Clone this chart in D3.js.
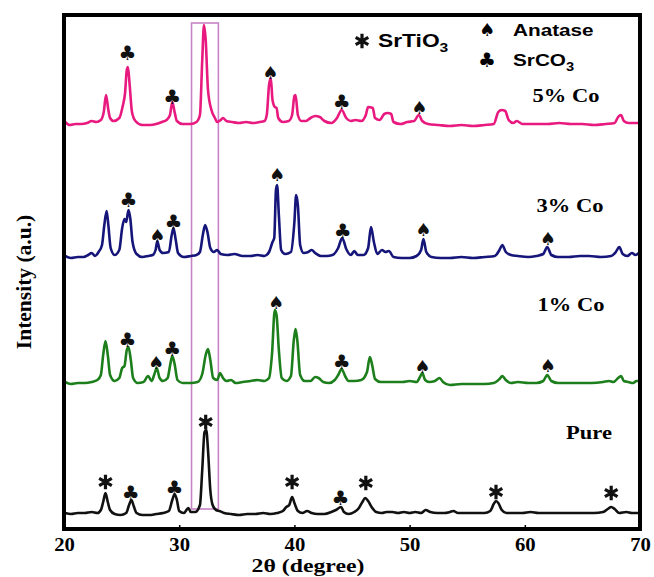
<!DOCTYPE html>
<html>
  <head>
    <meta charset="utf-8">
    <title>XRD patterns</title>
    <script src="https://cdn.jsdelivr.net/npm/d3@7"></script>
    <style>
      body { margin: 0; background: #fff; }
      svg { display: block; }
      .serif { font-family: "Liberation Serif", "Times New Roman", serif; font-weight: bold; }
      .sans { font-family: "Liberation Sans", Arial, sans-serif; font-weight: bold; }
      .sym { font-family: "DejaVu Sans", sans-serif; }
    </style>
  </head>
  <body>
    <div id="chart"></div>
    <script>
      // 2theta (degree) vs intensity (a.u.), traces already stacked with offsets
      var pure = [[20.1,16],[20.6,15],[21.2,16],[21.8,16],[22.4,17],[22.9,16],[23.2,19],[23.4,27],[23.6,36],[23.8,27],[24.0,19],[24.4,15],[24.9,14],[25.4,16],[25.65,24],[25.85,29],[26.05,23],[26.3,16],[26.8,14],[27.4,14],[28.0,15],[28.6,16],[29.1,18],[29.4,29],[29.6,35],[29.8,29],[30.0,18],[30.4,16],[30.8,21],[31.0,17],[31.4,17],[31.8,24],[32.0,59],[32.2,97],[32.35,99],[32.5,79],[32.7,39],[32.9,24],[33.2,19],[33.5,18],[33.9,16],[34.5,15],[35.2,14],[35.9,15],[36.6,15],[37.3,16],[37.9,15],[38.5,16],[39.0,18],[39.3,22],[39.55,24],[39.8,32],[40.0,26],[40.3,18],[40.7,16],[41.1,18],[41.5,16],[42.0,15],[42.6,15],[43.2,17],[43.6,19],[44.05,22],[44.3,17],[44.7,15],[45.2,17],[45.6,21],[45.9,27],[46.15,31],[46.4,28],[46.7,22],[47.1,17],[47.6,16],[48.0,17],[48.5,17],[49.0,16],[49.5,17],[50.0,16],[50.5,17],[51.0,16],[51.4,19],[51.8,17],[52.4,16],[53.0,16],[53.5,17],[53.8,18],[54.2,16],[55.0,16],[55.8,16],[56.5,16],[57.0,18],[57.3,25],[57.5,28],[57.7,26],[58.0,19],[58.4,16],[59.0,16],[59.8,16],[60.5,17],[61.2,16],[62.0,16],[63.0,16],[64.0,16],[65.0,16],[66.0,16],[66.8,17],[67.2,20],[67.5,22],[67.8,20],[68.2,16],[68.8,17],[69.3,16],[69.9,16]];

      var co1 = [[20.1,147],[20.6,145],[21.2,146],[21.8,146],[22.4,147],[22.9,149],[23.2,154],[23.4,174],[23.6,188],[23.8,174],[24.0,154],[24.4,148],[24.8,151],[25.05,161],[25.25,163],[25.45,179],[25.6,182],[25.8,169],[26.0,151],[26.4,146],[26.9,147],[27.3,153],[27.6,148],[27.85,155],[28.05,161],[28.3,151],[28.6,148],[29.0,151],[29.2,163],[29.4,173],[29.6,165],[29.85,149],[30.3,146],[31.0,146],[31.6,147],[32.0,155],[32.3,174],[32.5,180],[32.7,169],[32.95,151],[33.3,149],[33.55,156],[33.8,151],[34.1,148],[34.5,149],[34.9,146],[35.5,147],[36.2,148],[36.8,149],[37.4,148],[37.8,151],[38.05,174],[38.3,219],[38.45,214],[38.65,179],[38.9,151],[39.3,148],[39.7,153],[39.95,189],[40.1,200],[40.25,189],[40.5,154],[40.9,148],[41.4,148],[41.8,152],[42.1,151],[42.5,147],[43.0,146],[43.5,149],[43.8,154],[44.1,160],[44.4,153],[44.7,148],[45.2,148],[45.8,149],[46.3,157],[46.55,172],[46.75,164],[47.0,150],[47.5,147],[48.2,147],[48.8,147],[49.4,147],[50.0,148],[50.6,147],[50.9,152],[51.1,156],[51.35,149],[51.7,147],[52.2,148],[52.6,151],[52.9,147],[53.5,144],[54.5,145],[55.5,145],[56.5,145],[57.3,146],[57.8,150],[58.05,153],[58.35,149],[58.8,146],[59.4,147],[60.3,146],[61.0,146],[61.6,148],[61.95,154],[62.3,148],[62.9,146],[63.8,146],[64.8,146],[65.8,146],[66.8,147],[67.3,148],[67.7,147],[68.1,151],[68.35,153],[68.6,148],[69.0,147],[69.4,146],[69.7,148],[69.9,148]];

      var co3 = [[20.1,273],[20.6,271],[21.2,272],[21.7,272],[22.1,274],[22.4,276],[22.7,273],[23.0,277],[23.3,284],[23.5,304],[23.7,318],[23.85,304],[24.05,281],[24.4,274],[24.8,279],[25.05,301],[25.25,310],[25.4,307],[25.6,319],[25.75,311],[25.95,287],[26.3,275],[26.8,272],[27.3,273],[27.7,274],[27.95,279],[28.1,288],[28.3,279],[28.6,276],[29.1,277],[29.35,294],[29.5,301],[29.7,289],[29.9,276],[30.4,272],[31.0,273],[31.5,274],[31.8,277],[32.05,294],[32.25,304],[32.45,297],[32.7,281],[33.0,277],[33.3,279],[33.6,275],[34.2,274],[34.8,275],[35.5,273],[36.2,273],[36.8,274],[37.4,273],[37.8,277],[38.1,287],[38.25,291],[38.4,339],[38.5,344],[38.65,314],[38.85,279],[39.2,275],[39.7,277],[40.0,307],[40.15,334],[40.3,324],[40.5,284],[40.8,276],[41.2,277],[41.5,279],[41.8,276],[42.3,273],[42.8,273],[43.3,274],[43.8,281],[44.15,291],[44.5,280],[44.9,274],[45.2,278],[45.5,274],[46.0,274],[46.4,281],[46.65,302],[46.9,287],[47.2,275],[47.6,279],[47.9,277],[48.2,278],[48.6,272],[49.3,271],[50.0,271],[50.6,273],[51.0,279],[51.2,290],[51.45,277],[51.9,272],[52.7,271],[53.5,271],[54.5,272],[55.5,271],[56.5,272],[57.4,273],[57.8,279],[58.05,284],[58.35,277],[58.8,274],[59.4,273],[60.3,272],[61.0,273],[61.6,275],[61.95,282],[62.3,274],[62.9,272],[63.8,272],[64.8,273],[65.6,273],[66.6,272],[67.5,273],[67.9,277],[68.2,282],[68.5,275],[68.9,273],[69.3,276],[69.6,274],[69.9,276]];

      var co5 = [[20.1,407],[20.5,404],[21.0,405],[21.5,405],[22.0,406],[22.4,408],[22.8,407],[23.2,409],[23.45,417],[23.65,434],[23.85,419],[24.0,411],[24.3,408],[24.8,411],[25.1,423],[25.3,436],[25.45,459],[25.55,462],[25.7,444],[25.9,417],[26.2,408],[26.8,404],[27.5,404],[28.0,405],[28.5,407],[28.9,409],[29.2,414],[29.4,427],[29.6,417],[29.8,408],[30.3,405],[31.0,405],[31.5,407],[31.8,414],[32.0,469],[32.15,504],[32.3,489],[32.5,439],[32.8,419],[33.1,411],[33.3,407],[33.6,409],[33.8,411],[34.1,408],[34.6,407],[35.2,406],[35.8,407],[36.4,406],[37.0,407],[37.4,408],[37.6,414],[37.8,444],[37.95,451],[38.1,429],[38.3,422],[38.45,421],[38.6,411],[39.0,407],[39.5,408],[39.8,414],[40.0,433],[40.1,434],[40.3,414],[40.6,408],[41.0,408],[41.4,411],[41.8,413],[42.2,412],[42.6,408],[43.2,406],[43.7,411],[44.1,419],[44.5,411],[44.9,408],[45.3,409],[45.8,408],[46.2,414],[46.4,422],[46.8,421],[47.0,411],[47.4,409],[47.8,415],[48.1,416],[48.4,415],[48.6,407],[49.2,405],[49.8,407],[50.4,408],[50.8,414],[51.1,408],[51.6,405],[52.5,404],[53.5,403],[54.5,404],[55.5,403],[56.5,404],[57.3,405],[57.7,417],[58.0,419],[58.3,418],[58.6,409],[59.0,406],[59.3,408],[59.8,405],[61.0,405],[62.0,405],[63.0,406],[64.0,405],[65.0,405],[66.0,404],[67.0,405],[67.8,406],[68.1,412],[68.35,414],[68.6,408],[69.0,406],[69.5,406],[69.9,406]];

      var seriesNames = ["Pure", "1% Co", "3% Co", "5% Co"];
      var seriesData = [pure, co1, co3, co5];
      var seriesColors = ["#111111", "#1c7f1c", "#15157a", "#e8197f"];

      // phase markers: [2theta, intensity, phase]
      var markers = [
        [25.5,476,"c"],[29.4,432,"c"],[37.9,456,"s"],[44.1,427,"c"],[50.85,421,"s"],
        [25.6,329,"c"],[28.1,293,"s"],[29.5,307,"c"],[38.5,354,"s"],[44.2,298,"c"],[51.2,299,"s"],[62.0,290,"s"],
        [25.5,189,"c"],[28.0,166,"s"],[29.4,180,"c"],[38.4,226,"s"],[44.1,167,"c"],[51.1,162,"s"],[62.0,163,"s"],
        [23.6,47,"a"],[25.8,36,"c"],[29.6,41,"c"],[32.3,107,"a"],[39.8,47,"a"],[44.0,31,"c"],[46.2,46,"a"],[57.5,37,"a"],[67.5,36,"a"]
      ];

      var xTicks = [20, 30, 40, 50, 60, 70];
      var highlight = [31.07, 33.4, 20, 506];  // theta0, theta1, i0, i1

      var width = 654, height = 577;
      var svg = d3.select("#chart").append("svg")
        .attr("width", width)
        .attr("height", height);

      var x = d3.scaleLinear().domain([20, 70]).range([64, 640]);
      var y = d3.scaleLinear().domain([0, 514]).range([529, 15]);

      var line = d3.line()
        .x(function (d) { return x(d[0]); })
        .y(function (d) { return y(d[1]); })
        .curve(d3.curveMonotoneX);

      // highlight box around main SrTiO3 peak
      svg.append("rect")
        .attr("x", x(highlight[0]))
        .attr("y", y(highlight[3]))
        .attr("width", x(highlight[1]) - x(highlight[0]))
        .attr("height", y(highlight[2]) - y(highlight[3]))
        .attr("fill", "none")
        .attr("stroke", "#c784c7")
        .attr("stroke-width", 1.6);

      svg.selectAll("path.trace")
        .data(seriesData)
        .enter()
        .append("path")
        .attr("class", "trace")
        .attr("d", line)
        .attr("fill", "none")
        .attr("stroke", function (d, i) { return seriesColors[i]; })
        .attr("stroke-width", 2.6)
        .attr("stroke-linejoin", "round");

      // markers
      var sym = d3.symbol().type(d3.symbolAsterisk).size(150);
      markers.forEach(function (m) {
        if (m[2] === "a") {
          svg.append("path")
            .attr("d", sym)
            .attr("transform", "translate(" + x(m[0]) + "," + y(m[1]) + ")")
            .attr("fill", "none")
            .attr("stroke", "#111")
            .attr("stroke-width", 3.2);
        } else {
          svg.append("text")
            .attr("class", "sym")
            .attr("x", x(m[0]))
            .attr("y", y(m[1]))
            .attr("dy", "0.36em")
            .attr("text-anchor", "middle")
            .attr("font-size", m[2] === "c" ? 20 : 18)
            .attr("fill", "#111")
            .text(m[2] === "c" ? "\u2663" : "\u2660");
        }
      });

      // frame
      svg.append("rect")
        .attr("x", 64).attr("y", 15)
        .attr("width", 576).attr("height", 514)
        .attr("fill", "none")
        .attr("stroke", "#000")
        .attr("stroke-width", 4);

      var xAxis = svg.append("g")
        .attr("transform", "translate(0,529)")
        .call(d3.axisBottom(x).tickValues(xTicks).tickSize(-4).tickPadding(9).tickFormat(d3.format("d")));
      xAxis.select(".domain").remove();
      xAxis.selectAll("line").attr("stroke", "#000").attr("stroke-width", 1.5);
      xAxis.selectAll("text")
        .attr("class", "serif")
        .attr("font-size", 18)
        .attr("fill", "#000")
        .attr("transform", "scale(1.15,1)");

      svg.append("text")
        .attr("class", "serif")
        .attr("font-size", 19)
        .attr("text-anchor", "middle")
        .attr("transform", "translate(308,572) scale(1.25,1)")
        .text("2\u03b8 (degree)");

      svg.append("text")
        .attr("class", "serif")
        .attr("font-size", 21.5)
        .attr("text-anchor", "middle")
        .attr("transform", "translate(31,282) rotate(-90)")
        .text("Intensity (a.u.)");

      // series labels
      var labelPos = [[589, 439], [571, 311], [570, 212], [566, 102]];
      seriesNames.forEach(function (n, i) {
        svg.append("text")
          .attr("class", "serif")
          .attr("font-size", 18)
          .attr("text-anchor", "middle")
          .attr("transform", "translate(" + labelPos[i][0] + "," + labelPos[i][1] + ") scale(1.25,1)")
          .text(n);
      });

      // legend
      svg.append("path")
        .attr("d", sym)
        .attr("transform", "translate(362,41)")
        .attr("fill", "none")
        .attr("stroke", "#111")
        .attr("stroke-width", 3.2);
      var t1 = svg.append("text").attr("class", "sans").attr("font-size", 19)
        .attr("transform", "translate(378,47) scale(1.2,1)");
      t1.append("tspan").text("SrTiO");
      t1.append("tspan").attr("font-size", 13).attr("dy", 5).text("3");

      svg.append("text").attr("class", "sym").attr("font-size", 18)
        .attr("x", 487).attr("y", 30).attr("dy", "0.36em").attr("text-anchor", "middle").text("\u2660");
      svg.append("text").attr("class", "sym").attr("font-size", 20)
        .attr("x", 487).attr("y", 60).attr("dy", "0.36em").attr("text-anchor", "middle").text("\u2663");
      svg.append("text").attr("class", "sans").attr("font-size", 17)
        .attr("transform", "translate(513,36) scale(1.22,1)").text("Anatase");
      var t2 = svg.append("text").attr("class", "sans").attr("font-size", 17)
        .attr("transform", "translate(513,66) scale(1.22,1)");
      t2.append("tspan").text("SrCO");
      t2.append("tspan").attr("font-size", 12).attr("dy", 5).text("3");
    </script>
  </body>
</html>
